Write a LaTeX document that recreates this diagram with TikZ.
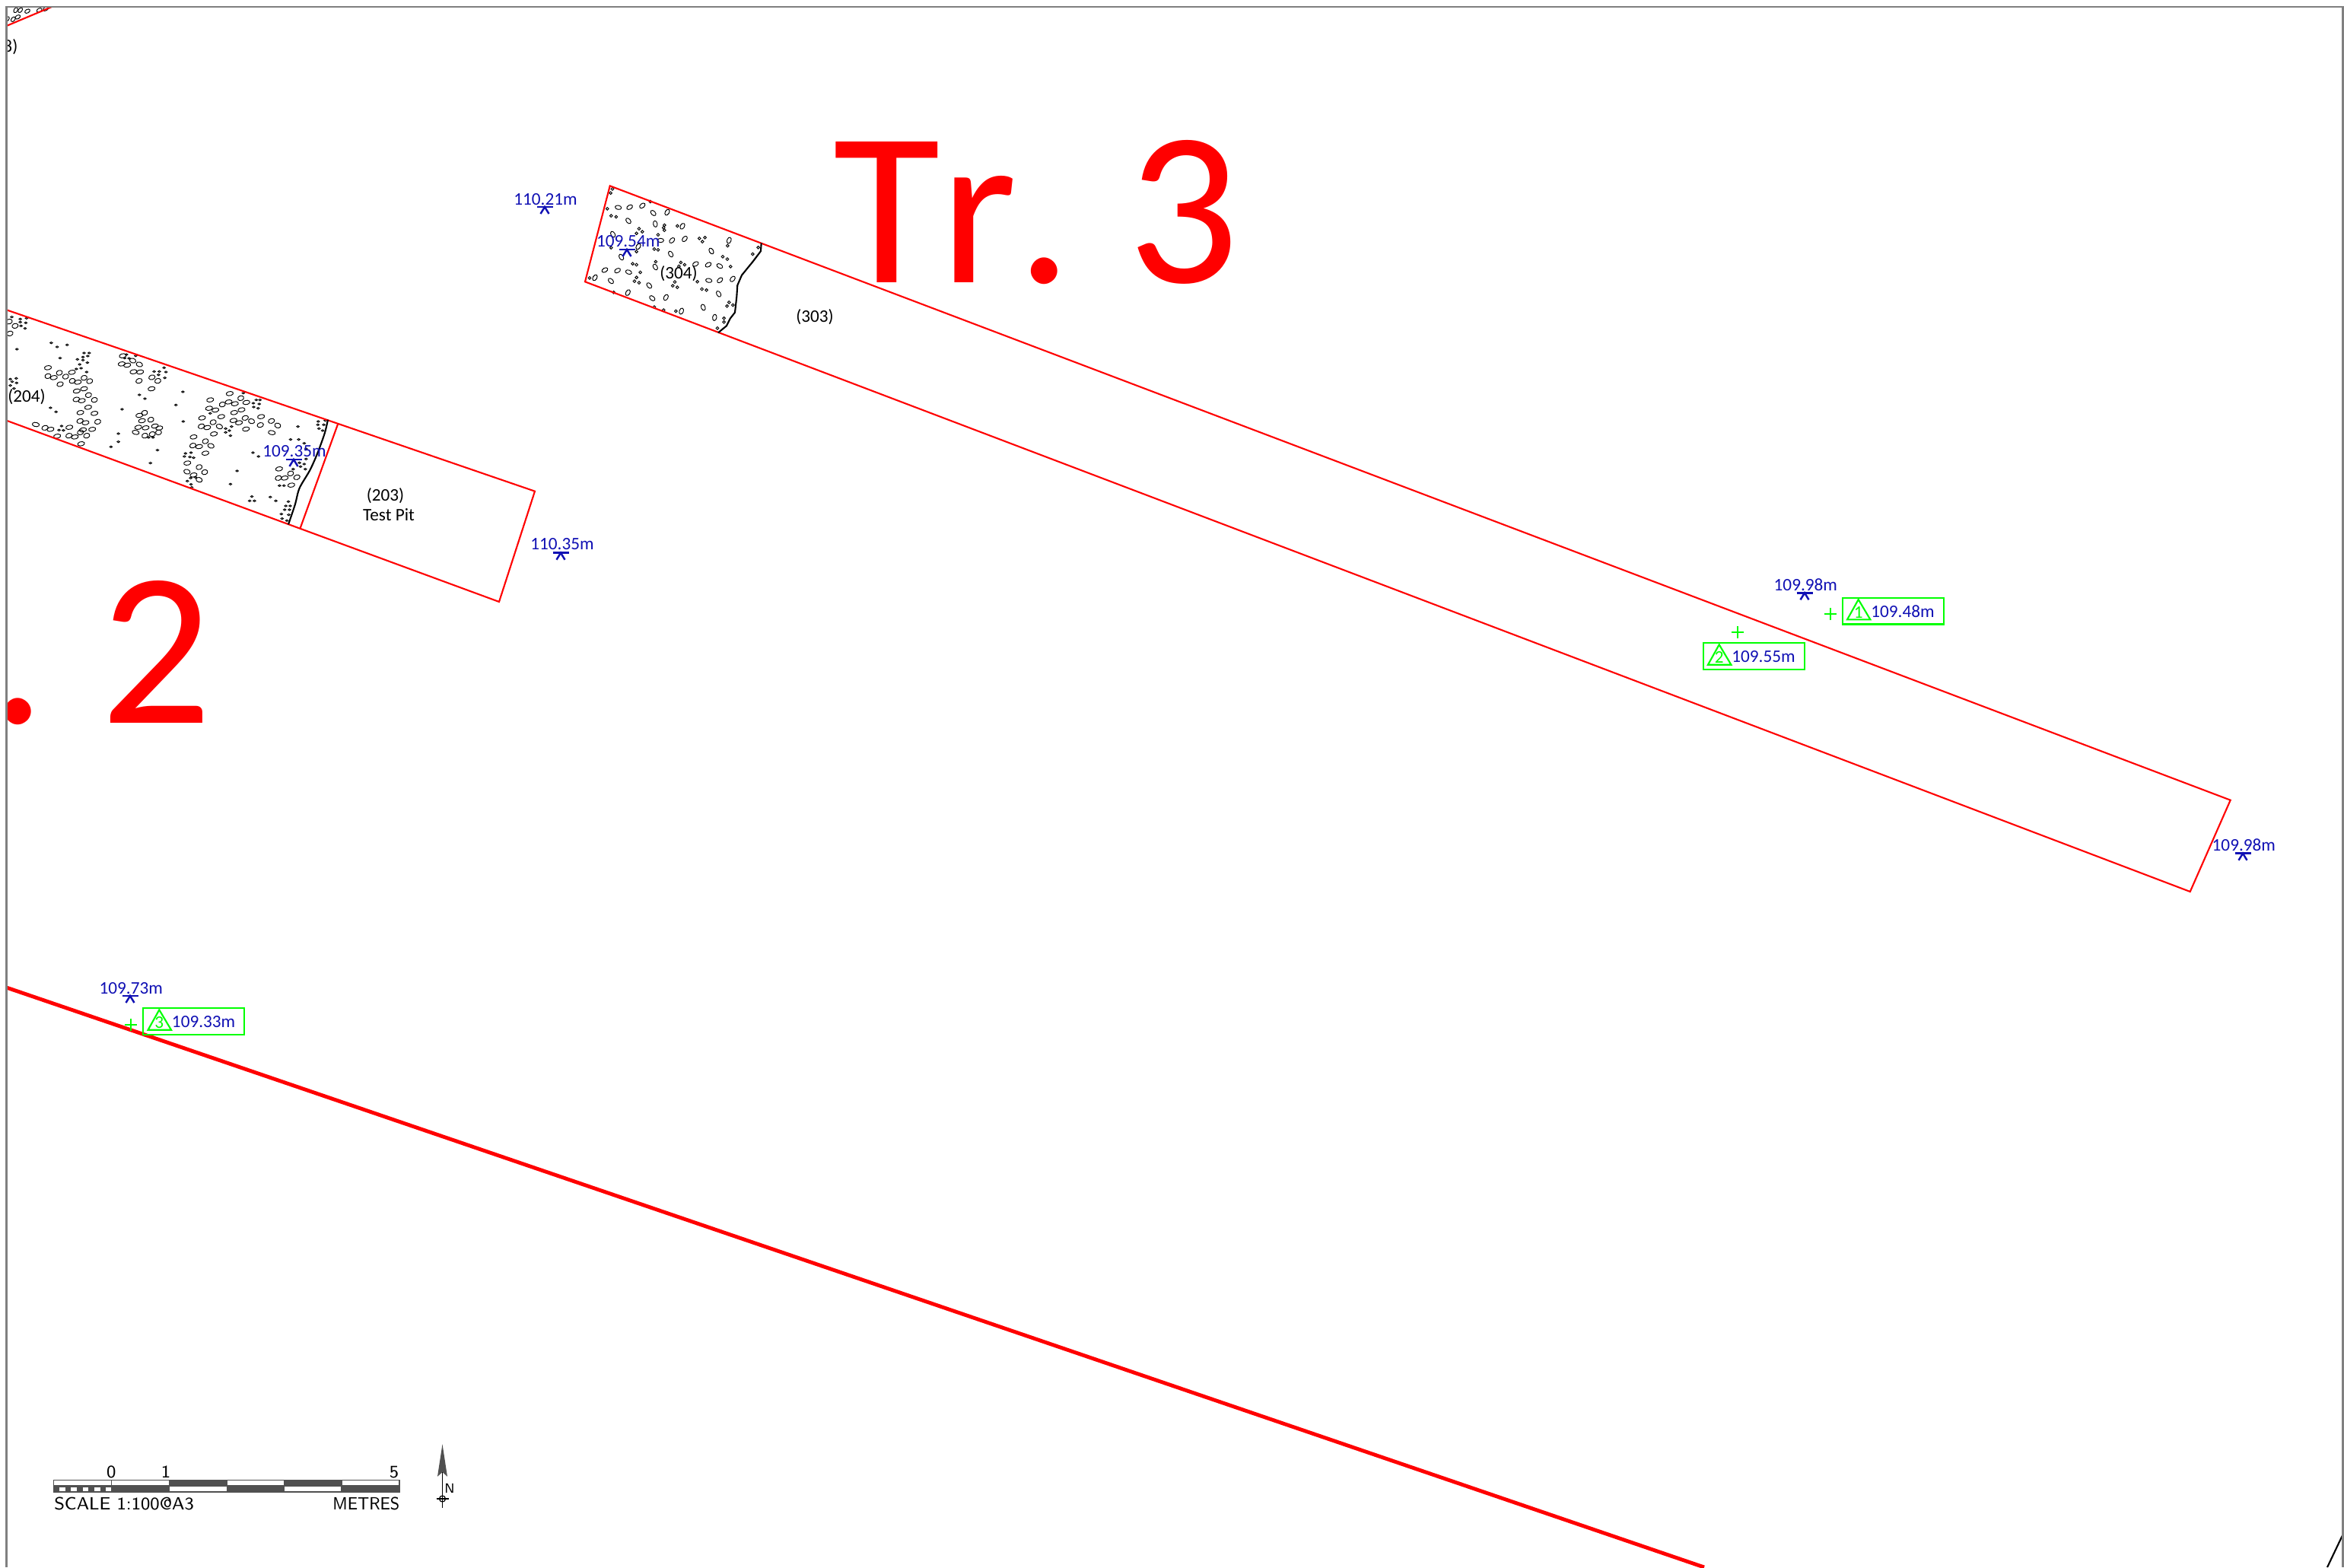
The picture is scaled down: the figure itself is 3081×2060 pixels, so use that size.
\documentclass[tikz,border=0pt]{standalone}
\usepackage{fontspec}
\setmainfont{Carlito}
\newfontfamily\titlefont[Kerning=Off]{Carlito}
\definecolor{lvlblue}{HTML}{1010B4}
\definecolor{bardark}{HTML}{505050}
\tikzset{
	redline/.style={color=red, line width=.6pt, line join=miter},
	edgeline/.style={color=black, line width=.6pt, line join=round},
	stone/.style={color=black, line width=.27pt},
	lvlmark/.style={color=lvlblue, line width=.7pt},
	lvltext/.style={text=lvlblue, inner sep=0pt, font=\fontsize{6.6}{7}\selectfont},
	ctxtext/.style={text=black, inner sep=0pt, font=\fontsize{6.6}{7}\selectfont},
	greenmark/.style={color=green, line width=.6pt},
	greenbox/.style={draw=green, line width=.6pt, inner sep=0pt, minimum width=1.327cm, minimum height=.347cm, anchor=north west},
	trtitle/.style={text=red, inner sep=0pt, font=\titlefont\fontsize{82}{84}\selectfont},
	cadtext/.style={text=black, inner sep=0pt, font=\sffamily\fontsize{6.6}{8}\selectfont}
}
\begin{document}
\begin{tikzpicture}[x=.01cm, y=-.01cm]
	\useasboundingbox (0,0) rectangle (3081,2060);
	\fill[white] (0,0) rectangle (3081,2060);
	\begin{scope}
	\clip (8.5,9) rectangle (3079.5,2060);
	% stones of Tr. 2
	\begin{scope}[shift={(0,380)}, xscale=.4847, yscale=.3333]
	\foreach \sx/\sy/\rot in {41/145/70,27/175/70,25/128/70,130/310/30,161/330/70,130/343/70,146/349/30,178/345/70,195/328/30,163/375/60,196/362/70,211/367/30,228/350/70,243/363/70,208/402/30,228/393/30,240/418/70,256/437/70,207/435/50,222/440/30,239/466/30,218/487/30,256/490/30,265/523/70,217/520/60,232/527/30,250/553/30,225/555/30,218/565/70,235/578/70,187/578/60,203/583/30,188/545/30,97/534/-30,122/547/60,137/553/30,155/580/30,220/610/30,
		333/263/30,330/295/30,345/300/30,360/282/-60,378/297/-60,362/326/30,380/327/30,377/362/60,412/348/60,428/362/70,411/393/30,392/488/70,378/498/30,385/519/30,409/515/70,375/545/30,395/547/30,420/540/30,432/548/30,430/565/80,368/565/-30,393/578/70,413/572/70,
		623/412/30,570/437/30,603/455/70,620/445/30,637/452/30,653/430/70,668/447/30,655/476/30,635/487/30,567/470/30,584/477/30,600/503/30,548/508/30,578/525/70,595/542/-60,546/541/60,562/546/30,633/518/30,648/527/30,682/521/-70,665/508/60,706/536/60,708/503/30,736/520/60,753/538/-70,737/566/-30,667/552/30,580/571/30,525/583/30,557/600/70,572/618/-60,523/617/60,540/621/30,557/647/30,508/686/30,540/702/70,555/722/70,507/720/-60,525/733/30,540/752/-60,757/709/30,755/745/60,772/745/30,788/727/70,805/742/60,790/773/30}
		{\draw[stone, shift={(\sx,\sy)}, rotate=\rot] (0,0) ellipse (10 and 8);}
	\foreach \sx/\sy in {32/110,55/118,72/115,70/133,55/130,57/145,68/155,139/212,155/228,182/220,46/237,163/272,228/252,242/252,238/264,225/268,210/277,225/280,237/290,216/297,207/315,220/312,235/327,28/355,44/352,33/365,45/370,28/380,38/392,137/468,152/484,331/474,167/540,160/556,172/557,343/258,368/263,350/273,338/272,445/310,432/325,418/325,450/327,430/338,447/350,378/417,393/432,496/405,477/457,497/522,321/570,321/602,301/622,427/635,408/686,415/585,403/585,660/410,695/437,705/437,687/450,703/453,688/465,700/470,628/542,612/550,622/558,612/565,625/578,570/490,808/542,863/522,882/518,862/535,878/535,865/550,875/558,788/593,810/593,825/608,830/630,830/670,812/685,825/690,815/700,828/710,795/710,686/645,701/660,503/648,518/645,500/660,515/662,525/665,643/717,625/769,517/745,530/742,508/757,518/770,520/782,758/775,770/775,683/818,677/835,690/835,733/820,748/835,782/838,775/855,787/855,772/870,785/870,763/887,783/890,765/905,778/913}
		{\draw[stone] (\sx,\sy) circle (3.5);}
	\end{scope}
	% stones of Tr. 3
	\begin{scope}[shift={(640,220)}, scale=.3333]
	\foreach \sx/\sy/\rot in {518/158/-10,563/157/30,613/151/40,656/180/-45,711/177/60,558/211/-50,664/223/-80,771/232/60,497/264/-60,530/354/-60,597/312/60,685/288/0,730/288/45,780/282/50,885/330/-60,955/288/70,725/342/-60,465/405/30,515/407/30,559/413/-20,664/393/-60,823/381/30,873/384/30,918/389/-30,969/440/50,426/435/60,489/448/-45,875/446/-10,919/445/40,640/466/-50,556/494/60,652/516/-40,706/513/60,914/499/-60,767/567/70,853/552/-70,898/592/80}
		{\draw[stone, shift={(\sx,\sy)}, rotate=\rot] (0,0) ellipse (12.5 and 8);}
	\foreach \sx/\sy in {495/85,488/101,475/163,490/191,510/195,600/242,613/254,590/260,675/266,700/228,697/238,700/248,751/231,838/280,860/277,850/293,949/309,1070/316,1048/342,660/322,675/325,490/317,590/332,666/372,575/380,590/384,605/414,590/434,582/449,600/455,741/452,733/467,751/473,765/375,757/390,780/384,930/352,948/362,961/391,830/451,848/480,866/484,405/436,500/493,660/551,697/563,745/567,955/532,947/547,970/543,935/595,935/610,909/634,645/135}
		{\draw[stone] (\sx,\sy) circle (5.5);}
	\end{scope}
	% corner stones
	\begin{scope}[scale=.3333]
	\foreach \sx/\sy/\rot in {62/40/60,80/40/50,108/44/30,155/40/30,180/35/30,52/76/50,70/67/30,28/75/50}
		{\draw[stone, shift={(\sx,\sy)}, rotate=\rot] (0,0) ellipse (11 and 7);}
	\end{scope}
	% trenches
	\draw[redline] (8.7,34) -- (68,9);
	\draw[redline] (8.5,407.3) -- (703,645.7) -- (656,791) -- (8.5,552.7);
	\draw[redline] (444,557.7) -- (394.6,694.3);
	\draw[redline] (801.7,244.3) -- (2931.7,1051.7) -- (2878.7,1172) -- (769,370.3) -- cycle;
	\draw[color=red, line width=1.4pt] (8.5,1298) -- (2240,2060);
	\draw[edgeline] plot[smooth, tension=.5] coordinates {(431,551.7) (426.6,570) (416.9,596.7) (407.2,618.3) (393.6,641.7) (387.8,663.3) (379,689.3)};
	\draw[edgeline] (1000.7,319.3) -- (1000,330) -- (990,343.3) -- (975,361.7) -- (969.3,375) -- (968.3,390) -- (966,410.7) -- (960,418.3) -- (955,428.3) -- (944,437.3);
	\draw[color=black, line width=.6pt] (3079,2018) -- (3059,2060);
	% titles and context labels
	\node[trtitle, anchor=base west] (tr3) at (1095,371) {Tr.\hspace{-4pt} 3};
	\node[trtitle, anchor=base east] (tr2) at (280,950) {Tr.\hspace{-4pt} 2};
	\node[ctxtext, anchor=east] (ctxcut) at (24,62) {8)};
	\end{scope}
	\node[ctxtext] (ctx204) at (35,521.7) {(204)};
	\node[ctxtext] (ctx203) at (506.5,652) {(203)};
	\node[ctxtext] (ctxpit) at (511,676.7) {Test Pit};
	\node[ctxtext] (ctx303) at (1071,417) {(303)};
	\node[ctxtext] (ctx304) at (892,360) {(304)};
	% spot levels
	\foreach \nm/\tx/\ty/\bx/\by/\val in {lvla/717/262/716/272/110.21m,lvlb/825.7/317/824/328/109.54m,lvlc/387/592.7/386/604/109.35m,lvld/739/715/737/726.7/110.35m,lvle/2373.3/768.3/2372/779.3/109.98m,lvlf/2949.3/1111/2948/1121.7/109.98m,lvlg/172.3/1299/171/1309/109.73m}
	{
		\node[lvltext] (\nm) at (\tx,\ty) {\val};
		\draw[lvlmark] (\bx-10.5,\by) -- +(21,0);
		\draw[lvlmark] (\bx-5.5,\by+9) -- (\bx,\by) -- (\bx+5.5,\by+9);
	}
	% survey points
	\foreach \nm/\bx/\by/\px/\py/\num/\val in {pta/2420.7/784.7/2405.7/807.3/1/109.48m,ptb/2237.7/844/2283.7/831.3/2/109.55m,ptc/187.3/1324/172.3/1346.7/3/109.33m}
	{
		\node[greenbox] (\nm box) at (\bx,\by) {};
		\draw[greenmark] (\bx+22,\by+3.3) -- (\bx+7.3,\by+29.7) -- (\bx+37.7,\by+29.7) -- cycle;
		\node[lvltext, text=green] (\nm num) at (\bx+22,\by+20) {\num};
		\node[lvltext] (\nm val) at (\bx+80.3,\by+19.3) {\val};
		\draw[greenmark] (\px-8,\py) -- (\px+8,\py);
		\draw[greenmark] (\px,\py-8) -- (\px,\py+8);
	}
	% scale bar
	\fill[bardark] (70.6,1953) rectangle (146.8,1961);
	\foreach \i in {1,3,5,7,9}
		\fill[white] (70.6+\i*7.62,1954.5) rectangle (70.6+\i*7.62+7.62,1959.5);
	\fill[bardark] (146.8,1953) rectangle (222.2,1961);
	\fill[bardark] (222.2,1945.7) rectangle (298.3,1953);
	\fill[bardark] (298.3,1953) rectangle (373.7,1961);
	\fill[bardark] (373.7,1945.7) rectangle (449.1,1953);
	\fill[bardark] (449.1,1953) rectangle (525,1961);
	\draw[color=bardark, line width=.35pt] (70.6,1945.7) rectangle (525,1961);
	\draw[color=bardark, line width=.35pt] (70.6,1953) -- (525,1953);
	\foreach \tick in {146.8,222.2,298.3,373.7,449.1}
		\draw[color=bardark, line width=.35pt] (\tick,1945.7) -- (\tick,1961);
	\node[cadtext] (bar0) at (146.4,1935) {0};
	\node[cadtext] (bar1) at (218,1935) {1};
	\node[cadtext] (bar5) at (518,1935) {5};
	\node[cadtext, anchor=west] (barscale) at (70.6,1976) {SCALE 1:100@A3};
	\node[cadtext, anchor=east] (barunit) at (526,1976) {\scalebox{.9}[1]{METRES}};
	% north arrow
	\fill[color=bardark] (581.5,1898.3) -- (575,1940.7) -- (581.5,1935) -- (588,1940.7) -- cycle;
	\draw[color=black, line width=.35pt] (581.5,1935) -- (581.5,1981.7);
	\draw[color=black, line width=.35pt] (581.5,1970) circle (4);
	\draw[color=black, line width=.35pt] (573.5,1970) -- (589.5,1970);
	\node[cadtext, font=\sffamily\fontsize{5}{6}\selectfont] (northn) at (591,1956.7) {N};
	% frame
	\draw[color=gray, line width=.6pt] (8.5,2060) -- (8.5,9) -- (3079.5,9) -- (3079.5,2060);
\end{tikzpicture}
\end{document}
